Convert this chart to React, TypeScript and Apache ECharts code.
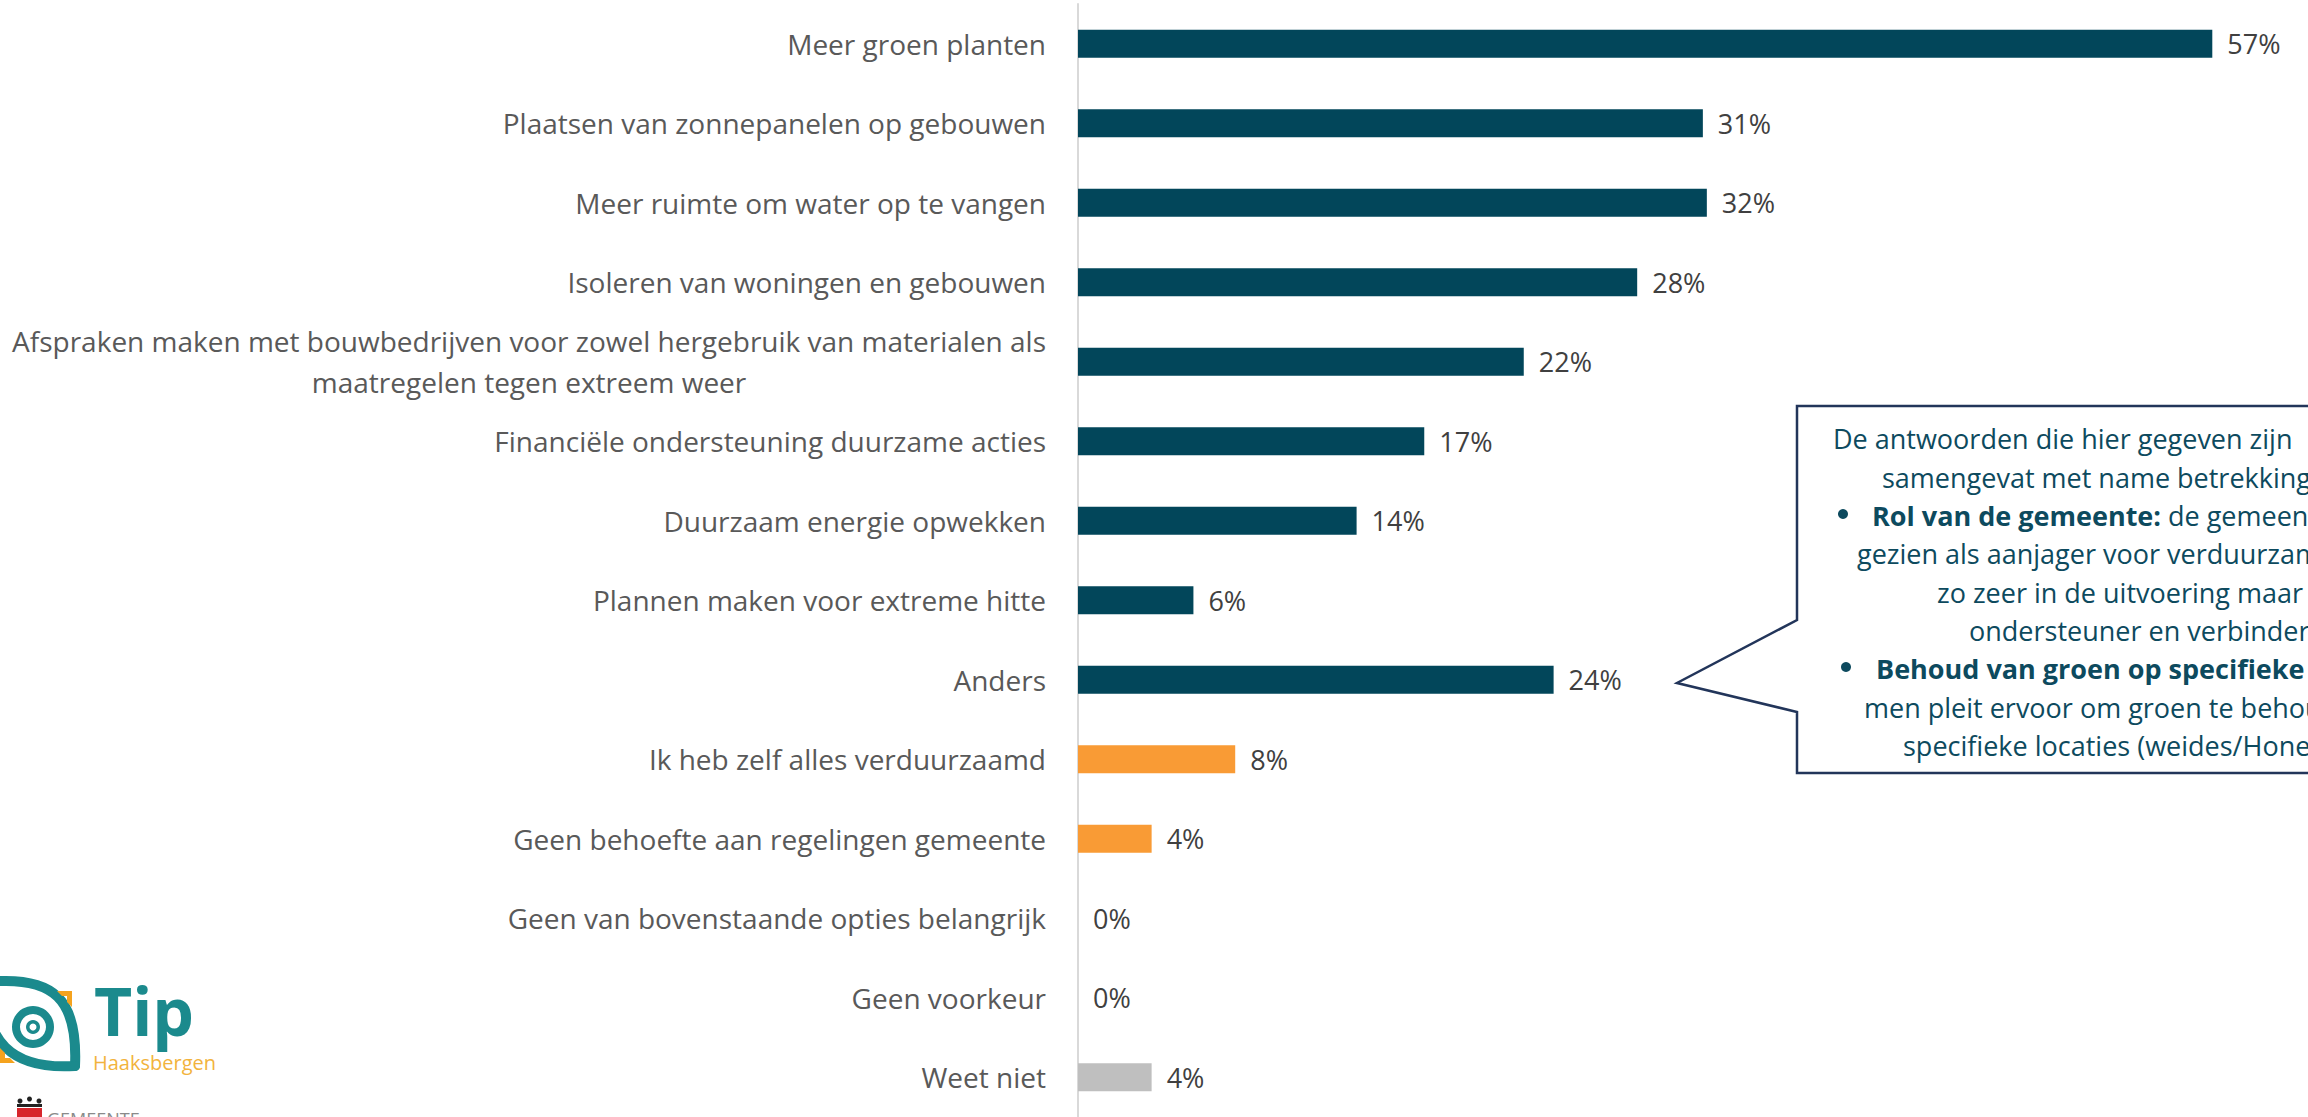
import React, { useEffect, useRef } from 'react';
import * as echarts from 'echarts';

const categories: string[] = [
  'Meer groen planten',
  'Plaatsen van zonnepanelen op gebouwen',
  'Meer ruimte om water op te vangen',
  'Isoleren van woningen en gebouwen',
  'Afspraken maken met bouwbedrijven voor zowel hergebruik van materialen als\nmaatregelen tegen extreem weer',
  'Financiële ondersteuning duurzame acties',
  'Duurzaam energie opwekken',
  'Plannen maken voor extreme hitte',
  'Anders',
  'Ik heb zelf alles verduurzaamd',
  'Geen behoefte aan regelingen gemeente',
  'Geen van bovenstaande opties belangrijk',
  'Geen voorkeur',
  'Weet niet',
];

// bar lengths (labels show the rounded percentage)
const percentages: number[] = [57, 31.4, 31.6, 28.1, 22.4, 17.4, 14, 5.8, 23.9, 7.9, 3.7, 0, 0, 3.7];

const answerGroups: string[] = [
  'maatregel', 'maatregel', 'maatregel', 'maatregel', 'maatregel', 'maatregel',
  'maatregel', 'maatregel', 'maatregel', 'geen', 'geen', 'geen', 'geen', 'weetniet',
];

const calloutLines: { bullet: boolean; bold: string; rest: string }[] = [
  { bullet: false, bold: '', rest: 'De antwoorden die hier gegeven zijn' },
  { bullet: false, bold: '', rest: 'samengevat met name betrekking op:' },
  { bullet: true, bold: 'Rol van de gemeente:', rest: ' de gemeente wordt' },
  { bullet: false, bold: '', rest: 'gezien als aanjager voor verduurzaming, niet' },
  { bullet: false, bold: '', rest: 'zo zeer in de uitvoering maar als' },
  { bullet: false, bold: '', rest: 'ondersteuner en verbinder.' },
  { bullet: true, bold: 'Behoud van groen op specifieke locaties:', rest: '' },
  { bullet: false, bold: '', rest: 'men pleit ervoor om groen te behouden op' },
  { bullet: false, bold: '', rest: 'specifieke locaties (weides/Honesch).' },
];

const groupColors: Record<string, string> = {
  maatregel: '#02465A',
  geen: '#F99B35',
  weetniet: '#BFBFBF',
};

const FONT = '"Open Sans", "Noto Sans", sans-serif';

export default function App() {
  const ref = useRef<HTMLDivElement>(null);

  useEffect(() => {
    if (!ref.current) return;
    const chart = echarts.init(ref.current, undefined, { renderer: 'svg' });

    const lineX = [1833, 1882, 1872, 1857, 1937, 1969, 1876, 1864, 1903];
    const bulletX = [0, 0, 1838, 0, 0, 0, 1841, 0, 0];
    const lineY = [438, 477, 515, 553, 592, 630, 668, 707, 745];
    const textColor = '#0D4A5E';
    const CF = 27;

    const calloutGraphics: any[] = [
      {
        type: 'polygon',
        z: 10,
        shape: {
          points: [
            [1797, 406], [2420, 406], [2420, 773], [1797, 773],
            [1797, 712], [1677, 683], [1797, 620],
          ],
        },
        style: { fill: '#FFFFFF', stroke: '#22355A', lineWidth: 2.5 },
      },
    ];
    calloutLines.forEach((l, i) => {
      if (l.bullet) {
        calloutGraphics.push({
          type: 'circle', z: 11,
          shape: { cx: bulletX[i] + 5, cy: lineY[i] - 1, r: 5 },
          style: { fill: textColor },
        });
      }
      const parts: string[] = [];
      if (l.bold) parts.push(`{b|${l.bold}}`);
      if (l.rest) parts.push(`{n|${l.rest}}`);
      calloutGraphics.push({
        type: 'text', z: 11, x: lineX[i], y: lineY[i],
        style: {
          text: parts.join(''),
          fontFamily: FONT, fontSize: CF, fill: textColor,
          align: 'left', verticalAlign: 'middle',
          rich: {
            b: { fontFamily: FONT, fontSize: CF, fontWeight: 'bold', fill: textColor },
            n: { fontFamily: FONT, fontSize: CF, fill: textColor },
          },
        },
      });
    });

    const teal = '#1B8A8D';
    const orange = '#F5A31E';
    const logoGraphics: any[] = [
      {
        type: 'bezierCurve', z: 5,
        shape: { x1: -14, y1: 982, x2: 75, y2: 1066, cpx1: 55, cpy1: 975, cpx2: 78, cpy2: 1000 },
        style: { stroke: teal, lineWidth: 10, fill: null, lineCap: 'round' },
      },
      {
        type: 'bezierCurve', z: 5,
        shape: { x1: -14, y1: 982, x2: 75, y2: 1066, cpx1: -16, cpy1: 1040, cpx2: 10, cpy2: 1070 },
        style: { stroke: teal, lineWidth: 10, fill: null, lineCap: 'round' },
      },
      { type: 'ring', z: 5, shape: { cx: 33, cy: 1027, r: 21, r0: 13 }, style: { fill: teal } },
      { type: 'circle', z: 5, shape: { cx: 33, cy: 1027, r: 7 }, style: { fill: teal } },
      { type: 'circle', z: 6, shape: { cx: 33, cy: 1027, r: 3.5 }, style: { fill: '#FFFFFF' } },
      {
        type: 'polygon', z: 5,
        shape: { points: [[57, 991], [72, 991], [72, 1007], [67, 1002], [67, 996], [62, 996]] },
        style: { fill: orange },
      },
      {
        type: 'polygon', z: 5,
        shape: { points: [[0, 1048], [5, 1053], [5, 1058], [10, 1058], [15, 1063], [0, 1063]] },
        style: { fill: orange },
      },
      {
        type: 'text', z: 5, x: 94, y: 1010,
        style: {
          text: 'Tip', fontFamily: FONT, fontSize: 66, fontWeight: 'bold', fill: teal,
          align: 'left', verticalAlign: 'middle', lineHeight: 48,
        },
      },
      {
        type: 'text', z: 5, x: 93, y: 1062,
        style: {
          text: 'Haaksbergen', fontFamily: FONT, fontSize: 20, fill: '#F2B33D',
          align: 'left', verticalAlign: 'middle', lineHeight: 16,
        },
      },
      { type: 'circle', z: 5, shape: { cx: 20, cy: 1101, r: 2.5 }, style: { fill: '#222' } },
      { type: 'circle', z: 5, shape: { cx: 29.5, cy: 1099, r: 2.5 }, style: { fill: '#222' } },
      { type: 'circle', z: 5, shape: { cx: 39, cy: 1101, r: 2.5 }, style: { fill: '#222' } },
      { type: 'rect', z: 5, shape: { x: 17, y: 1104, width: 25, height: 3 }, style: { fill: '#222' } },
      { type: 'rect', z: 5, shape: { x: 17, y: 1108, width: 25, height: 12 }, style: { fill: '#D7262C' } },
      {
        type: 'text', z: 5, x: 47, y: 1119,
        style: {
          text: 'GEMEENTE', fontFamily: FONT, fontSize: 18, fill: '#8A8A8A',
          align: 'left', verticalAlign: 'middle',
        },
      },
    ];

    const option: any = {
      animation: false,
      backgroundColor: '#FFFFFF',
      grid: { left: 1078, top: 4, width: 1194, height: 1120, containLabel: false },
      xAxis: { type: 'value', min: 0, max: 60, show: false },
      yAxis: {
        type: 'category',
        inverse: true,
        data: categories,
        axisLine: { show: true, lineStyle: { color: '#D9D9D9', width: 2 } },
        axisTick: { show: false },
        splitLine: { show: false },
        axisLabel: {
          margin: 32,
          interval: 0,
          formatter: (v: string) => v.split('\n').map((s) => `{a|${s}}`).join('\n'),
          rich: {
            a: {
              align: 'center',
              fontFamily: FONT,
              fontSize: 28,
              lineHeight: 41,
              color: '#595959',
            },
          },
        },
      },
      series: [
        {
          type: 'bar',
          barWidth: 28,
          data: percentages.map((v, i) => ({
            value: v,
            itemStyle: { color: groupColors[answerGroups[i]] },
          })),
          label: {
            show: true,
            position: 'right',
            distance: 15,
            formatter: (p: any) => `${Math.round(p.value)}%`,
            fontFamily: FONT,
            fontSize: 27,
            color: '#404040',
          },
        },
      ],
      graphic: [...logoGraphics, ...calloutGraphics],
    };

    chart.setOption(option);
    return () => chart.dispose();
  }, []);

  return (
    <div
      ref={ref}
      style={{ position: 'fixed', left: 0, top: 0, width: 2308, height: 1117, overflow: 'hidden' }}
    />
  );
}
